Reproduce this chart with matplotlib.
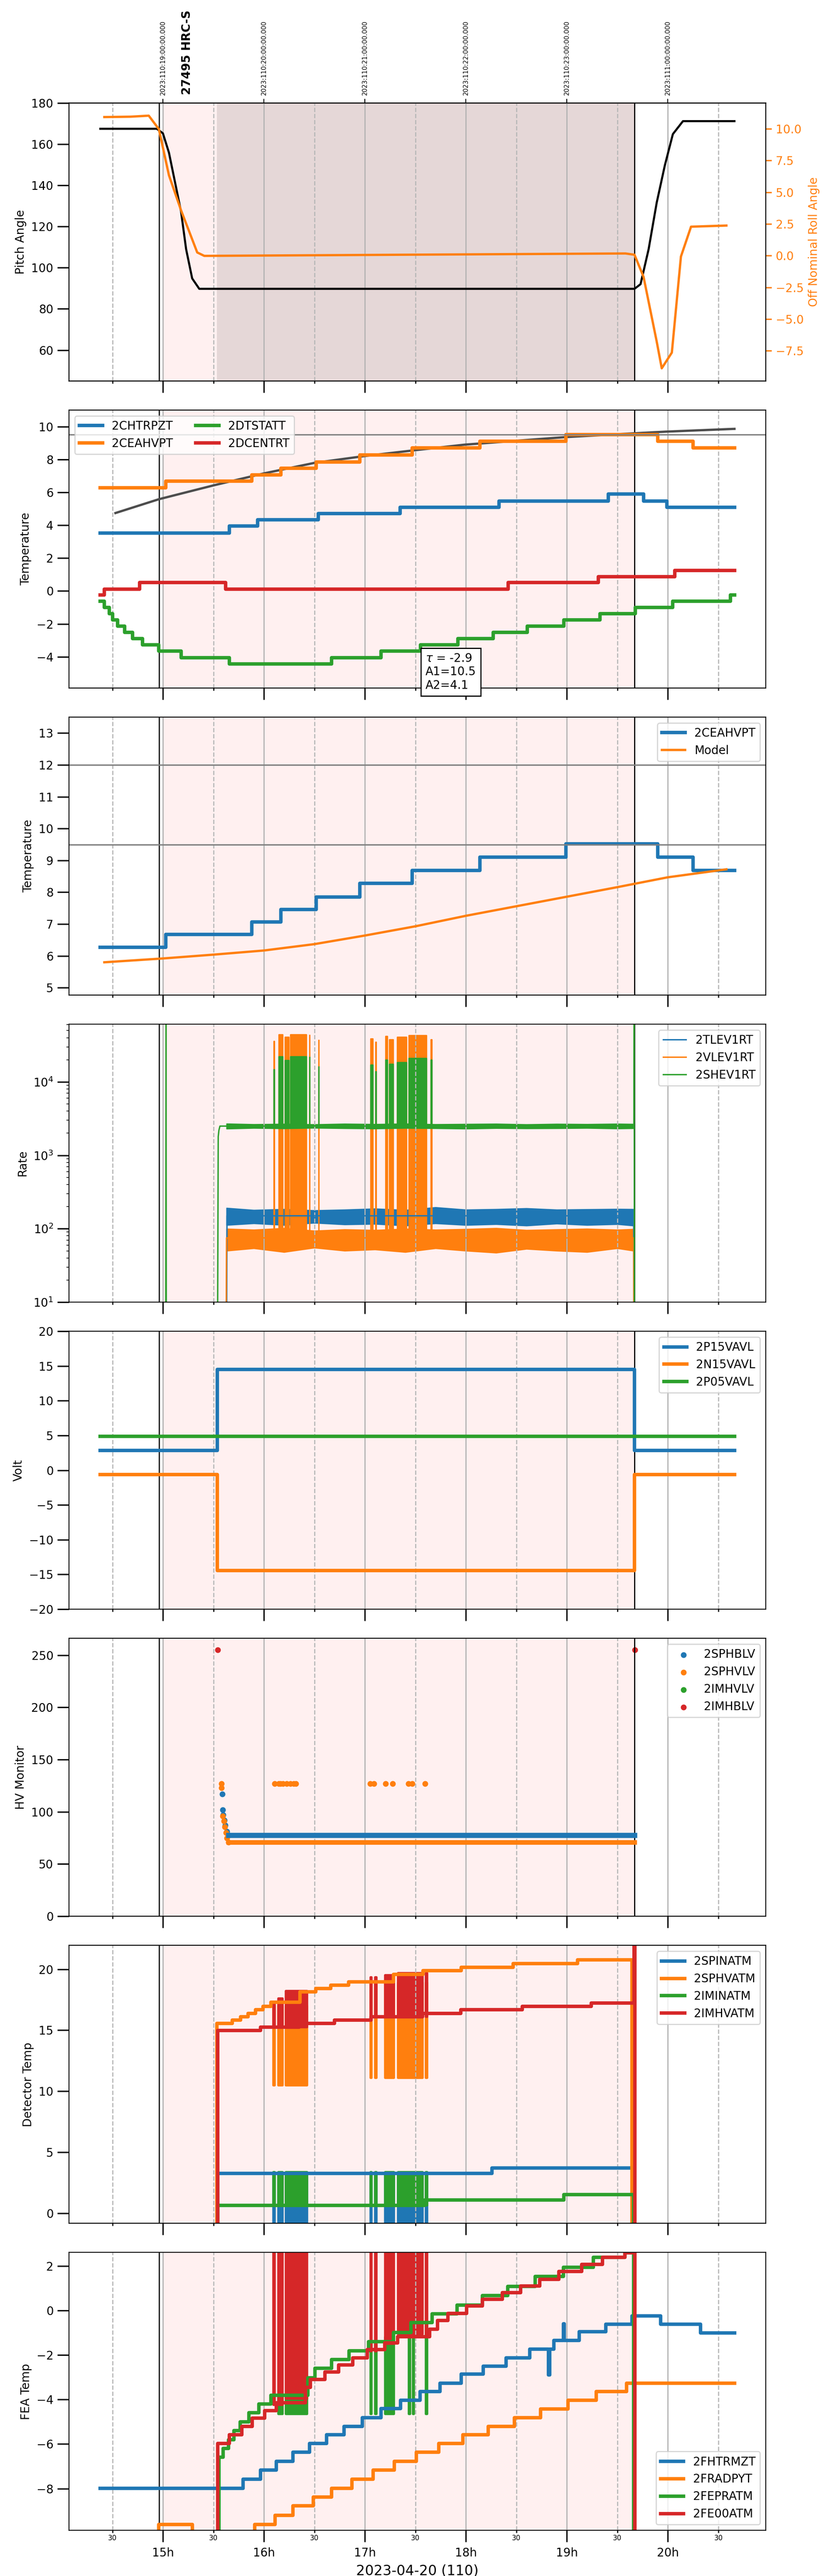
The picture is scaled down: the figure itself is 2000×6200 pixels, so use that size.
import numpy as np
import matplotlib.pyplot as plt
from matplotlib.ticker import FixedLocator

# x axis: local hours on 2023-04-20 (top labels are UTC)
hours = [15, 16, 17, 18, 19, 20]
half_hours = [14.5, 15.5, 16.5, 17.5, 18.5, 19.5, 20.5]
hour_labels = ['15h', '16h', '17h', '18h', '19h', '20h']
half_labels = ['30', '30', '30', '30', '30', '30', '30']
utc_labels = ['2023:110:19:00:00.000', '2023:110:20:00:00.000', '2023:110:21:00:00.000',
              '2023:110:22:00:00.000', '2023:110:23:00:00.000', '2023:111:00:00:00.000']
obs_label = '27495 HRC-S'
obs_label_t = 15.24
obs_line_start = 14.962
obs_start = 15.0
obs_stop = 19.668
slew_end = 15.535

# panel 1: pitch / roll
pitch_t = [14.38, 14.94, 15.00, 15.06, 15.18, 15.23, 15.29, 15.36, 19.67, 19.73, 19.81, 19.89, 19.97, 20.05, 20.15, 20.66]
pitch_v = [167.5, 167.5, 165.3, 155.9, 127.2, 109.0, 94.8, 89.75, 89.75, 92.0, 109.0, 131.6, 149.6, 164.9, 171.2, 171.2]
roll_t = [14.42, 14.68, 14.86, 14.96, 15.06, 15.18, 15.34, 15.41, 19.58, 19.67, 19.76, 19.89, 19.94, 20.04, 20.13, 20.23, 20.58]
roll_v = [10.92, 10.95, 11.03, 9.97, 6.33, 3.57, 0.25, -0.02, 0.17, 0.07, -1.68, -6.77, -8.88, -7.64, -0.07, 2.28, 2.37]

# panel 2: temperatures
chtrpzt_t = [14.38, 15.66, 15.94, 16.54, 17.35, 18.33, 19.41, 19.76, 19.99, 20.66]
chtrpzt_v = [3.53, 3.94, 4.32, 4.71, 5.10, 5.48, 5.91, 5.48, 5.10, 5.10]
ceahvpt_t = [14.38, 15.03, 15.88, 16.17, 16.52, 16.95, 17.47, 18.14, 18.99, 19.90, 20.25, 20.66]
ceahvpt_v = [6.27, 6.67, 7.07, 7.46, 7.85, 8.28, 8.69, 9.10, 9.52, 9.10, 8.69, 8.69]
dtstatt_t = [14.38, 14.42, 14.47, 14.50, 14.55, 14.62, 14.70, 14.80, 14.96, 15.18, 15.66, 16.67, 17.16,
             17.55, 17.92, 18.27, 18.61, 18.97, 19.33, 19.68, 20.05, 20.62, 20.66]
dtstatt_v = [-0.63, -1.0, -1.39, -1.77, -2.14, -2.51, -2.90, -3.28, -3.66, -4.06, -4.44, -4.06, -3.66,
             -3.28, -2.90, -2.51, -2.14, -1.76, -1.38, -1.0, -0.63, -0.25, -0.25]
dcentrt_t = [14.38, 14.42, 14.77, 15.62, 18.42, 19.31, 20.07, 20.66]
dcentrt_v = [-0.25, 0.12, 0.51, 0.12, 0.51, 0.88, 1.26, 1.26]
model2_t = [14.53, 14.96, 15.50, 16.0, 16.5, 16.99, 17.48, 17.99, 18.99, 19.67, 19.98, 20.66]
model2_v = [4.74, 5.58, 6.42, 7.15, 7.79, 8.20, 8.55, 8.90, 9.36, 9.59, 9.69, 9.86]
fit_text = '$\\tau$ = -2.9\nA1=10.5\nA2=4.1'

# panel 3: 2CEAHVPT vs model
model3_t = [14.42, 15.0, 15.5, 16.0, 16.5, 17.0, 17.5, 18.0, 18.5, 19.0, 19.5, 20.0, 20.58]
model3_v = [5.80, 5.92, 6.04, 6.17, 6.37, 6.64, 6.93, 7.26, 7.56, 7.86, 8.16, 8.47, 8.72]

# panel 4: rates
rate_band_t = [15.63, 15.9, 16.2, 16.5, 16.8, 17.1, 17.4, 17.7, 18.0, 18.3, 18.6, 18.9, 19.2, 19.5, 19.66]
tlev_lo = [112, 118, 112, 120, 114, 116, 110, 118, 112, 115, 110, 117, 112, 115, 110]
tlev_hi = [192, 180, 185, 178, 182, 188, 180, 196, 182, 185, 190, 182, 184, 186, 185]
vlev_lo = [50, 54, 48, 55, 50, 52, 48, 54, 50, 47, 53, 50, 48, 54, 50]
vlev_hi = [100, 97, 102, 94, 98, 96, 100, 97, 99, 102, 96, 98, 100, 97, 99]
shev_lo = [2300, 2350, 2320, 2360, 2330, 2310, 2350, 2330, 2300, 2340, 2320, 2330, 2350, 2310, 2330]
shev_hi = [2700, 2650, 2680, 2640, 2690, 2660, 2700, 2650, 2670, 2690, 2640, 2680, 2660, 2690, 2670]
tlev_t = [14.38, 15.63, 15.635, 19.662, 19.665, 20.66]
tlev_v = [1, 1, 150, 150, 1, 1]
vlev_t = [14.38, 15.625, 15.63, 19.662, 19.665, 20.66]
vlev_v = [1, 1, 75, 75, 1, 1]
shev_t = [14.38, 15.028, 15.031, 15.034, 15.54, 15.548, 15.555, 15.565, 19.664, 19.667, 19.670, 20.66]
shev_v = [1, 1, 1e5, 1, 1, 1800, 2200, 2500, 2500, 1e5, 1, 1]
rate_burst_start = [16.098, 16.149, 16.208, 16.263, 16.452, 16.541, 17.058, 17.106, 17.205, 17.244,
                    17.320, 17.437, 17.655]
rate_burst_end = [16.103, 16.183, 16.245, 16.420, 16.454, 16.544, 17.078, 17.109, 17.223, 17.278,
                  17.409, 17.609, 17.660]
vlev_burst_top = [3.6e4, 4.4e4, 4.1e4, 4.4e4, 4.4e4, 3.8e4, 3.9e4, 3.5e4, 4.2e4, 3.8e4, 4.1e4, 4.3e4, 3.8e4]
shev_burst_top = [1.47e4, 2.2e4, 1.97e4, 2.2e4, 2.2e4, 1.65e4, 1.7e4, 1.39e4, 2.0e4, 1.75e4, 1.85e4, 2.1e4, 2.0e4]
vlev_burst_base = 55
shev_burst_base = 2500

# panel 5: voltages
volt_t = [14.38, 15.54, 19.67, 20.66]
p15_v = [2.83, 14.54, 2.83, 2.83]
n15_v = [-0.6, -14.45, -0.6, -0.6]
p05_v = [4.86, 4.86, 4.86, 4.86]

# panel 6: HV monitor
sphblv_t = [15.588, 15.593, 15.598, 15.609, 15.619, 15.635, 15.651]
sphblv_v = [117, 102, 97, 92, 87, 81, 77.6]
sphblv_plateau_t = [15.651, 19.668]
sphblv_plateau_v = [77.6, 77.6]
sphvlv_t = [15.582, 15.582, 15.593, 15.603, 15.614, 15.624, 15.635, 15.651,
            16.106, 16.148, 16.164, 16.190, 16.227, 16.263, 16.295, 16.316,
            17.054, 17.090, 17.206, 17.274, 17.431, 17.468, 17.598]
sphvlv_v = [127, 123, 96, 91, 85.5, 80, 75, 70.7,
            127, 127, 127, 127, 127, 127, 127, 127,
            127, 127, 127, 127, 127, 127, 127]
sphvlv_plateau_t = [15.651, 19.668]
sphvlv_plateau_v = [70.7, 70.7]
imhvlv_t = []
imhvlv_v = []
imhblv_t = [15.545, 19.672]
imhblv_v = [255, 255]

# burst intervals for the detector / FEA temperatures
burst_start = [16.096, 16.144, 16.216, 17.056, 17.104, 17.202, 17.327, 17.604]
burst_end = [16.106, 16.186, 16.427, 17.066, 17.116, 17.288, 17.570, 17.616]

# panel 7: detector temps
spinatm_t = [14.38, 15.545, 18.26, 19.66, 20.66]
spinatm_v = [-10, 3.25, 3.69, -10, -10]
sphvatm_t = [14.38, 15.535, 15.687, 15.771, 15.844, 15.918, 15.991, 16.069, 16.357, 16.514, 16.661,
             16.839, 17.284, 17.577, 17.954, 18.467, 19.106, 19.646, 20.66]
sphvatm_v = [-10, 15.55, 15.82, 16.10, 16.39, 16.68, 16.95, 17.29, 18.14, 18.42, 18.68,
             18.98, 19.58, 19.88, 20.17, 20.47, 20.78, -10, -10]
iminatm_t = [14.38, 15.545, 17.59, 18.97, 19.66, 20.66]
iminatm_v = [-10, 0.64, 1.08, 1.51, -10, -10]
imhvatm_t = [14.38, 15.545, 15.965, 16.35, 16.70, 17.06, 17.57, 17.95, 18.56, 19.24, 19.665, 19.675, 20.66]
imhvatm_v = [-10, 14.97, 15.26, 15.55, 15.82, 16.10, 16.39, 16.68, 16.95, 17.24, 40, -10, -10]
spinatm_burst_lo = [-5, -5, -5, -5, -5, -5, -5, -5]
spinatm_burst_hi = [3.25, 3.25, 3.25, 3.25, 3.25, 3.25, 3.25, 3.25]
sphvatm_burst_lo = [10.5, 10.5, 10.5, 11.1, 11.1, 11.1, 11.1, 11.1]
sphvatm_burst_hi = [17.0, 17.0, 17.0, 18.9, 18.9, 18.9, 18.9, 18.9]
iminatm_burst_lo = [0.64, 0.64, 0.64, 0.64, 0.64, 0.64, 0.64, 0.64]
iminatm_burst_hi = [3.37, 3.37, 3.37, 3.37, 3.37, 3.37, 3.37, 3.37]
imhvatm_burst_lo = [15.26, 15.26, 15.26, 16.10, 16.10, 16.10, 16.10, 16.10]
imhvatm_burst_hi = [17.3, 17.6, 18.2, 19.35, 19.35, 19.5, 19.67, 19.67]

# panel 8: FEA temps
fhtrmzt_t = [14.38, 15.792, 15.965, 16.122, 16.289, 16.452, 16.619, 16.792, 16.975, 17.159, 17.352, 17.546,
             17.745, 17.954, 18.174, 18.400, 18.635, 18.818, 18.83, 18.871, 18.965, 18.975, 19.122, 19.384,
             19.646, 19.929, 20.326, 20.661]
fhtrmzt_v = [-7.98, -7.57, -7.16, -6.78, -6.37, -5.98, -5.58, -5.20, -4.81, -4.41, -4.03, -3.64,
             -3.26, -2.86, -2.49, -2.12, -1.73, -2.90, -1.73, -1.35, -0.60, -1.35, -0.95, -0.61,
             -0.23, -0.61, -1.00, -1.00]
fradpyt_t = [14.38, 14.96, 15.29, 15.91, 16.11, 16.289, 16.49, 16.67, 16.87, 17.08, 17.29, 17.51, 17.73,
             17.97, 18.22, 18.48, 18.74, 19.01, 19.29, 19.59, 20.66]
fradpyt_v = [-10.2, -9.61, -10.2, -9.61, -9.20, -8.78, -8.39, -7.98, -7.57, -7.17, -6.78, -6.37, -5.98,
             -5.58, -5.20, -4.81, -4.42, -4.03, -3.64, -3.27, -3.27]
fepratm_t = [14.38, 15.556, 15.598, 15.651, 15.703, 15.766, 15.85, 15.949, 16.069, 16.436, 16.504, 16.672,
             16.845, 17.038, 17.284, 17.457, 17.666, 17.913, 18.164, 18.415, 18.688, 18.965, 19.264, 19.577,
             19.66, 20.66]
fepratm_v = [-10.2, -6.59, -6.20, -5.80, -5.40, -5.00, -4.59, -4.20, -3.80, -3.02, -2.59, -2.20,
             -1.80, -1.40, -0.98, -0.54, -0.15, 0.24, 0.68, 1.09, 1.53, 1.95, 2.39, 2.60,
             -10.2, -10.2]
fe00atm_t = [14.38, 15.545, 15.66, 15.78, 15.886, 16.007, 16.122, 16.41, 16.462, 16.603, 16.74, 16.881,
             17.023, 17.195, 17.326, 17.64, 17.719, 17.824, 18.007, 18.164, 18.363, 18.541, 18.73, 18.923,
             19.148, 19.353, 19.577, 19.662, 19.672, 20.66]
fe00atm_v = [-10.2, -5.98, -5.58, -5.20, -4.83, -4.49, -4.15, -3.46, -3.09, -2.76, -2.44, -2.13,
             -1.76, -1.45, -1.17, -0.83, -0.44, -0.13, 0.20, 0.51, 0.81, 1.10, 1.41, 1.76,
             2.08, 2.39, 2.60, 5.0, -10.2, -10.2]
fe00atm_burst_lo = [-4.23, -4.23, -3.95, -1.82, -1.82, -1.49, -1.07, -1.07]
fe00atm_burst_hi = [5, 5, 5, 5, 5, 5, 5, 5]
fepratm_burst_start = [16.144, 16.216, 17.056, 17.104, 17.202, 17.435, 17.476, 17.604]
fepratm_burst_end = [16.186, 16.427, 17.066, 17.116, 17.288, 17.446, 17.487, 17.616]
fepratm_burst_lo = [-4.65, -4.65, -4.65, -4.65, -4.65, -4.65, -4.65, -4.65]
fepratm_burst_hi = [-3.8, -3.8, -1.5, -1.5, -1.2, -1.0, -1.0, -0.6]


def fill_bursts(ax, starts, ends, lows, highs, color, lw):
    for s, e, lo, hi in zip(starts, ends, lows, highs):
        ax.fill_between([s, e], [lo, lo], [hi, hi], color=color, lw=lw)


fig, axes = plt.subplots(8, 1, figsize=(10, 31), dpi=200, sharex=True)
fig.subplots_adjust(left=0.083, right=0.9215, top=0.96, bottom=0.0177, hspace=0.105)

for ax in axes:
    ax.axvspan(obs_start, obs_stop, color='red', alpha=0.06, lw=0, zorder=0)
    ax.axvline(obs_line_start, color='black', lw=1)
    ax.axvline(obs_stop, color='black', lw=1)
    ax.xaxis.set_major_locator(FixedLocator(hours))
    ax.xaxis.set_minor_locator(FixedLocator(half_hours))
    ax.grid(True, which='major', axis='x', color='0.7', lw=1)
    ax.grid(True, which='minor', axis='x', color='0.72', lw=1, ls='--')
    ax.tick_params(axis='x', which='major', length=10, width=1.2, pad=4.5, labelsize=10)
    ax.tick_params(axis='x', which='minor', length=2, width=1, pad=1.5, labelsize=6)
    ax.tick_params(axis='y', which='major', length=10, width=1.2)

# ---- panel 1
ax = axes[0]
ax.axvspan(slew_end, obs_stop, color='black', alpha=0.1, lw=0)
ax.plot(pitch_t, pitch_v, color='black', lw=1.8)
ax.set_ylim(45, 180)
ax.set_ylabel('Pitch Angle')
axr = ax.twinx()
axr.plot(roll_t, roll_v, color='C1', lw=2)
axr.set_ylabel('Off Nominal Roll Angle', color='C1')
axr.tick_params(axis='y', colors='C1', length=5, width=1.2)
top = ax.secondary_xaxis('top')
top.set_ticks(hours, labels=utc_labels)
top.tick_params(labelrotation=90, labelsize=5.5)
ax.text(obs_label_t, 1.03, obs_label, transform=ax.get_xaxis_transform(), rotation=90,
        ha='center', va='bottom', fontsize=10, fontweight='bold')

# ---- panel 2
ax = axes[1]
ax.plot(model2_t, model2_v, color='0.3', lw=2)
ax.plot(chtrpzt_t, chtrpzt_v, drawstyle='steps-post', color='C0', lw=3, label='2CHTRPZT')
ax.plot(ceahvpt_t, ceahvpt_v, drawstyle='steps-post', color='C1', lw=3, label='2CEAHVPT')
ax.plot(dtstatt_t, dtstatt_v, drawstyle='steps-post', color='C2', lw=3, label='2DTSTATT')
ax.plot(dcentrt_t, dcentrt_v, drawstyle='steps-post', color='C3', lw=3, label='2DCENTRT')
ax.axhline(9.5, color='0.5', lw=1.2)
ax.set_ylim(-5.9, 11.0)
ax.set_ylabel('Temperature')
ax.legend(loc='upper left', ncol=2)
ax.text(17.6, -3.75, fit_text, ha='left', va='top', fontsize=10,
        bbox=dict(facecolor='white', edgecolor='black'))

# ---- panel 3
ax = axes[2]
ax.plot(ceahvpt_t, ceahvpt_v, drawstyle='steps-post', color='C0', lw=3, label='2CEAHVPT')
ax.plot(model3_t, model3_v, color='C1', lw=2, label='Model')
ax.axhline(12, color='0.5', lw=1.2)
ax.axhline(9.5, color='0.5', lw=1.2)
ax.set_ylim(4.77, 13.5)
ax.set_ylabel('Temperature')
ax.legend(loc='upper right')

# ---- panel 4
ax = axes[3]
ax.set_yscale('log')
n4 = len(rate_burst_start)
ax.plot(tlev_t, tlev_v, color='C0', lw=1.2, label='2TLEV1RT')
ax.fill_between(rate_band_t, tlev_lo, tlev_hi, color='C0', lw=0.8)
ax.plot(vlev_t, vlev_v, color='C1', lw=1.2, label='2VLEV1RT')
ax.fill_between(rate_band_t, vlev_lo, vlev_hi, color='C1', lw=0.8)
fill_bursts(ax, rate_burst_start, rate_burst_end, [vlev_burst_base] * n4, vlev_burst_top, 'C1', 1.2)
ax.plot(shev_t, shev_v, color='C2', lw=1.2, label='2SHEV1RT')
ax.fill_between(rate_band_t, shev_lo, shev_hi, color='C2', lw=0.8)
fill_bursts(ax, rate_burst_start, rate_burst_end, [shev_burst_base] * n4, shev_burst_top, 'C2', 1.2)
ax.set_ylim(10, 6.1e4)
ax.set_ylabel('Rate')
ax.legend(loc='upper right')

# ---- panel 5
ax = axes[4]
ax.plot(volt_t, p15_v, drawstyle='steps-post', color='C0', lw=3, label='2P15VAVL')
ax.plot(volt_t, n15_v, drawstyle='steps-post', color='C1', lw=3, label='2N15VAVL')
ax.plot(volt_t, p05_v, drawstyle='steps-post', color='C2', lw=3, label='2P05VAVL')
ax.set_ylim(-20, 20)
ax.set_ylabel('Volt')
ax.legend(loc='upper right')

# ---- panel 6
ax = axes[5]
ax.plot(sphblv_plateau_t, sphblv_plateau_v, color='C0', lw=4.5)
ax.scatter(sphblv_t, sphblv_v, s=16, color='C0', label='2SPHBLV')
ax.plot(sphvlv_plateau_t, sphvlv_plateau_v, color='C1', lw=4)
ax.scatter(sphvlv_t, sphvlv_v, s=16, color='C1', label='2SPHVLV')
ax.scatter(imhvlv_t, imhvlv_v, s=16, color='C2', label='2IMHVLV')
ax.scatter(imhblv_t, imhblv_v, s=16, color='C3', label='2IMHBLV')
ax.set_ylim(0, 266)
ax.set_ylabel('HV Monitor')
ax.legend(loc='upper right')

# ---- panel 7
ax = axes[6]
ax.plot(spinatm_t, spinatm_v, drawstyle='steps-post', color='C0', lw=3, label='2SPINATM')
fill_bursts(ax, burst_start, burst_end, spinatm_burst_lo, spinatm_burst_hi, 'C0', 2)
ax.plot(sphvatm_t, sphvatm_v, drawstyle='steps-post', color='C1', lw=3, label='2SPHVATM')
fill_bursts(ax, burst_start, burst_end, sphvatm_burst_lo, sphvatm_burst_hi, 'C1', 2)
ax.plot(iminatm_t, iminatm_v, drawstyle='steps-post', color='C2', lw=3, label='2IMINATM')
fill_bursts(ax, burst_start, burst_end, iminatm_burst_lo, iminatm_burst_hi, 'C2', 2)
ax.plot(imhvatm_t, imhvatm_v, drawstyle='steps-post', color='C3', lw=3, label='2IMHVATM')
fill_bursts(ax, burst_start, burst_end, imhvatm_burst_lo, imhvatm_burst_hi, 'C3', 2)
ax.set_ylim(-0.83, 21.95)
ax.set_ylabel('Detector Temp')
ax.legend(loc='upper right')

# ---- panel 8
ax = axes[7]
ax.plot(fhtrmzt_t, fhtrmzt_v, drawstyle='steps-post', color='C0', lw=3, label='2FHTRMZT')
ax.plot(fradpyt_t, fradpyt_v, drawstyle='steps-post', color='C1', lw=3, label='2FRADPYT')
ax.plot(fepratm_t, fepratm_v, drawstyle='steps-post', color='C2', lw=3, label='2FEPRATM')
fill_bursts(ax, fepratm_burst_start, fepratm_burst_end, fepratm_burst_lo, fepratm_burst_hi, 'C2', 2)
ax.plot(fe00atm_t, fe00atm_v, drawstyle='steps-post', color='C3', lw=3, label='2FE00ATM')
fill_bursts(ax, burst_start, burst_end, fe00atm_burst_lo, fe00atm_burst_hi, 'C3', 2)
ax.set_ylim(-9.88, 2.61)
ax.set_ylabel('FEA Temp')
ax.legend(loc='lower right')

for ax in axes[:-1]:
    ax.tick_params(axis='x', which='both', labelbottom=False)
axes[-1].set_xticklabels(hour_labels)
axes[-1].set_xticklabels(half_labels, minor=True)
axes[-1].set_xlabel('2023-04-20 (110)', fontsize=12, labelpad=5)
axes[-1].set_xlim(14.07, 20.97)

fig.savefig('out.png', dpi=200)
